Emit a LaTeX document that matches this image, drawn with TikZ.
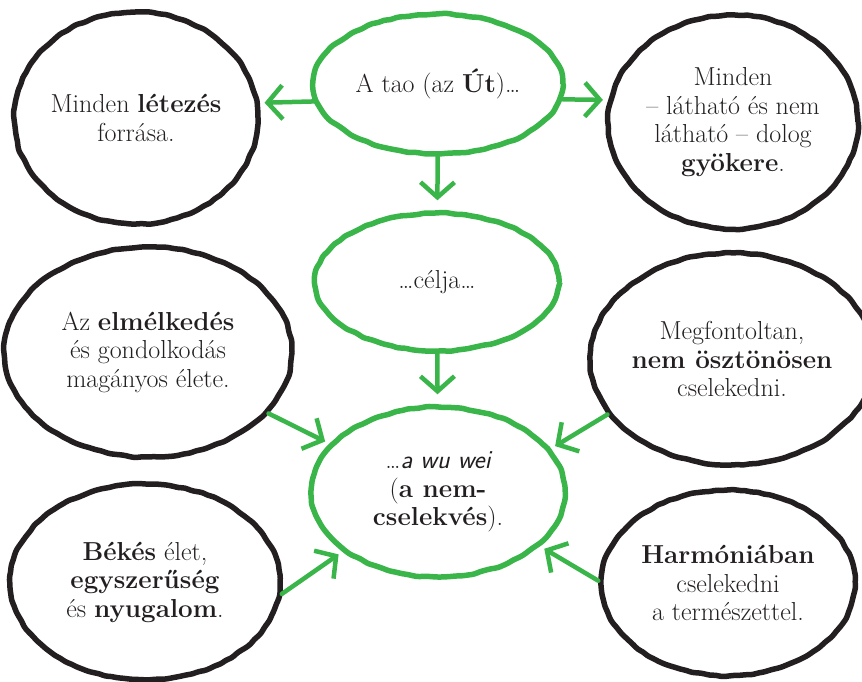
\documentclass[tikz,border=0pt]{standalone}
\usepackage{fontspec}
\usetikzlibrary{shapes.geometric,arrows.meta,decorations.pathmorphing}
\definecolor{taogreen}{RGB}{58,181,74}
\definecolor{inkblack}{RGB}{35,31,32}

\begin{document}
\begin{tikzpicture}[x=1pt,y=-1pt,
	blob/.style 2 args={ellipse, draw=inkblack, line width=5.5pt, inner sep=0pt,
		minimum width=#1pt, minimum height=#2pt, align=center, text=inkblack,
		font=\fontsize{26}{28.5}\selectfont,
		decorate, decoration={random steps,segment length=6pt,amplitude=0.8pt},
		rounded corners=3pt},
	greenblob/.style 2 args={blob={#1}{#2}, draw=taogreen, line width=5.5pt},
	arr/.style={draw=taogreen, line width=4.5pt, line cap=round,
		-{Straight Barb[length=15pt,width=34pt,line width=4.5pt]}, shorten >=5pt}]
\pgfmathsetseed{7}
\useasboundingbox (0,0) rectangle (862,681);

% middle column
\node[greenblob={250}{140}] (tao) at (438,84) {A tao (az \textbf{Út})\ldots};
\node[greenblob={244}{138}] (celja) at (437,282) {\ldots célja\ldots};
\node[greenblob={254}{170}] (wuwei) at (438,492)
	{\ldots{\sffamily\itshape a wu wei}\\(\textbf{a nem-}\\\textbf{cselekvés}).};

% left and right
\node[blob={244}{212}] (letezes) at (136,118) {Minden \textbf{létezés}\\forrása.};
\node[blob={250}{214}] (gyoker) at (733,122)
	{Minden\\– látható és nem\\látható – dolog\\\textbf{gyökere}.};
\node[blob={288}{210}] (elmelk) at (148,352)
	{Az \textbf{elmélkedés}\\és gondolkodás\\magányos élete.};
\node[blob={258}{212}] (megfont) at (732,359)
	{Megfontoltan,\\\textbf{nem ösztönösen}\\cselekedni.};
\node[blob={270}{196}] (bekes) at (145,582)
	{\textbf{Békés} élet,\\\textbf{egyszerűség}\\és \textbf{nyugalom}.};
\node[blob={254}{186}] (harmonia) at (728,583)
	{\textbf{Harmóniában}\\cselekedni\\a természettel.};

% arrows
\draw[arr] (tao.188) -- (letezes.7);
\draw[arr] (tao.-7) -- (gyoker.170);
\draw[arr, shorten >=10pt] (tao) -- (celja);
\draw[arr, shorten >=10pt] (celja) -- (wuwei);
\draw[arr] (elmelk.-27) -- (wuwei.156);
\draw[arr] (megfont.204) -- (wuwei.21);
\draw[arr] (bekes.-5) -- (wuwei.212);
\draw[arr] (harmonia.179) -- (wuwei.-28);

\end{tikzpicture}
\end{document}
